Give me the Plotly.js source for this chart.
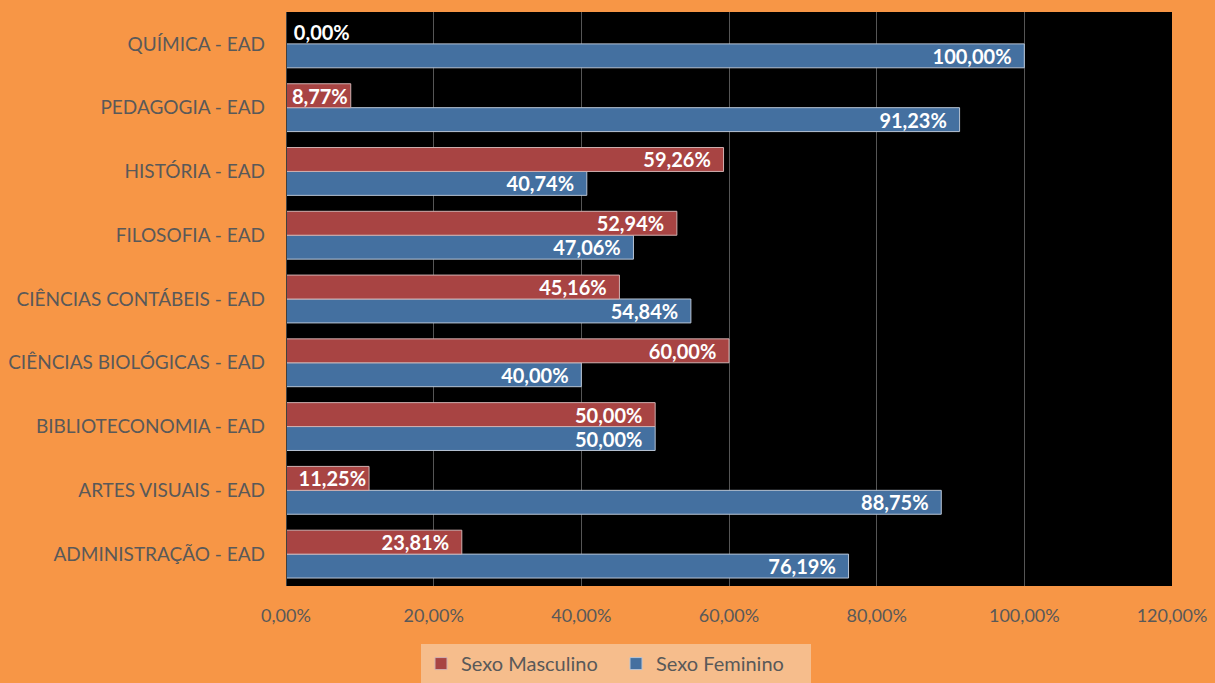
<!DOCTYPE html>
<html>
<head>
<meta charset="utf-8">
<script src="https://cdn.plot.ly/plotly-3.0.1.min.js"></script>
<style>html,body{margin:0;padding:0;background:#F79646;}#chart{width:1215px;height:683px;}</style>
</head>
<body>
<div id="chart"></div>
<script>
// Categories, bottom to top
const categories = [
  'ADMINISTRAÇÃO - EAD',
  'ARTES VISUAIS - EAD',
  'BIBLIOTECONOMIA - EAD',
  'CIÊNCIAS BIOLÓGICAS - EAD',
  'CIÊNCIAS CONTÁBEIS - EAD',
  'FILOSOFIA - EAD',
  'HISTÓRIA - EAD',
  'PEDAGOGIA - EAD',
  'QUÍMICA - EAD'
];
const masculino = [23.81, 11.25, 50.00, 60.00, 45.16, 52.94, 59.26, 8.77, 0.00];
const feminino  = [76.19, 88.75, 50.00, 40.00, 54.84, 47.06, 40.74, 91.23, 100.00];
const xTicks = [0, 20, 40, 60, 80, 100, 120];
const xTickText = xTicks.map(v => v.toFixed(2).replace('.', ',') + '%');

const FONT = 'Lato, "Open Sans", "Liberation Sans", sans-serif';
const pos = arr => arr.map(v => v === 0 ? 'outside' : 'inside');
const NB = '\u00a0';

const common = {
  type: 'bar',
  orientation: 'h',
  y: categories,
  insidetextanchor: 'end',
  constraintext: 'none',
  cliponaxis: false,
  textfont: {family: FONT, size: 20, color: '#ffffff', weight: 'bold'},
  hoverinfo: 'x+y'
};

const traces = [
  Object.assign({}, common, {
    name: 'Sexo Feminino',
    x: feminino,
    texttemplate: '%{x:.2f}%' + NB + NB,
    textposition: pos(feminino),
    marker: {color: '#4470A0', line: {color: '#B8C4D4', width: 1}}
  }),
  Object.assign({}, common, {
    name: 'Sexo Masculino',
    x: masculino,
    texttemplate: masculino.map(v => v === 0 ? NB + '%{x:.2f}%' : (v < 15 ? '%{x:.2f}%' : '%{x:.2f}%' + NB + NB)),
    textposition: pos(masculino),
    marker: {color: '#A84443', line: {color: '#D0B0B0', width: 1}}
  })
];

const layout = {
  width: 1215, height: 683,
  paper_bgcolor: '#F79646',
  plot_bgcolor: '#000000',
  separators: ',.',
  barmode: 'group',
  bargap: 0.25,
  bargroupgap: 0,
  margin: {l: 286, r: 43, t: 12, b: 97, autoexpand: false},
  font: {family: FONT, size: 18, color: '#595959'},
  xaxis: {
    range: [0, 120],
    tickvals: xTicks,
    ticktext: xTickText,
    showgrid: true,
    gridcolor: '#555555',
    gridwidth: 1,
    zeroline: false,
    showline: false,
    ticks: '',
    ticklabelstandoff: 17,
    tickfont: {family: FONT, size: 18, color: '#595959'},
    fixedrange: true
  },
  yaxis: {
    type: 'category',
    showgrid: false,
    zeroline: false,
    showline: false,
    ticks: '',
    ticklabelstandoff: 20,
    tickfont: {family: FONT, size: 19, color: '#595959'},
    fixedrange: true
  },
  shapes: [{
    type: 'line', xref: 'x', yref: 'paper', x0: 0, x1: 0, y0: 0, y1: 1,
    line: {color: '#404040', width: 2}, layer: 'above'
  }],
  showlegend: true,
  legend: {
    orientation: 'h',
    traceorder: 'reversed',
    xref: 'container', yref: 'container',
    x: 0.507, xanchor: 'center',
    y: 0.057, yanchor: 'top',
    bgcolor: '#F6BD8C',
    borderwidth: 0,
    font: {family: FONT, size: 20, color: '#595959'},
    entrywidth: 150,
    itemwidth: 30
  }
};

Plotly.newPlot('chart', traces, layout, {displayModeBar: false, staticPlot: true});
</script>
</body>
</html>
